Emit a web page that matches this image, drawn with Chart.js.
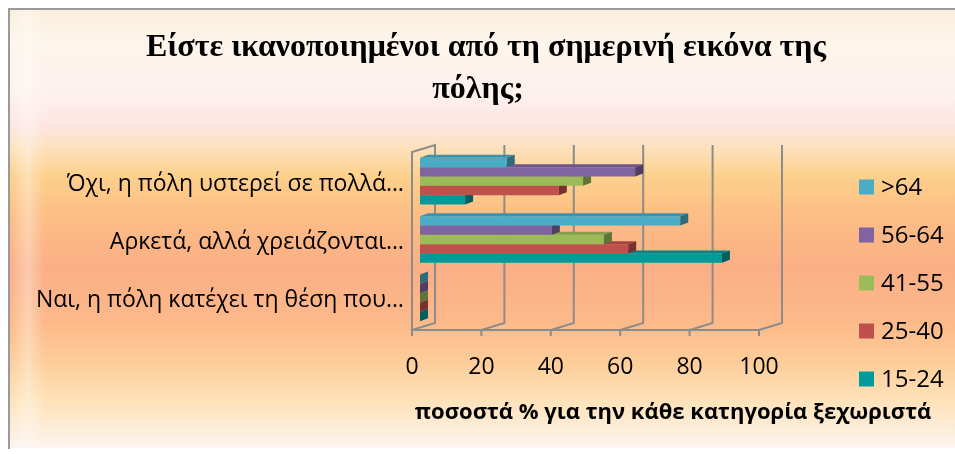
<!DOCTYPE html>
<html>
<head>
<meta charset="utf-8">
<script src="https://cdn.jsdelivr.net/npm/chart.js@4/dist/chart.umd.min.js"></script>
<style>
  html, body { margin: 0; padding: 0; background: #fff; }
  canvas { display: block; }
</style>
</head>
<body>
<canvas id="chart" width="955" height="454"></canvas>
<script>
// δεδομένα
const categories = ['Όχι, η πόλη υστερεί σε πολλά…', 'Αρκετά, αλλά χρειάζονται…', 'Ναι, η πόλη κατέχει τη θέση που…'];
const ageGroups = ['>64', '56-64', '41-55', '25-40', '15-24'];
const over64 = [25, 75, 0];
const age56to64 = [62, 38, 0];
const age41to55 = [47, 53, 0];
const age25to40 = [40, 60, 0];
const age15to24 = [13, 87, 0];
const xTicks = [0, 20, 40, 60, 80, 100];
const colors = ['#4bacc6', '#8064a2', '#9bbb59', '#c0504d', '#009a9b'];
const titleLines = ['Είστε ικανοποιημένοι από τη σημερινή εικόνα της', 'πόλης;'];
const xTitle = 'ποσοστά % για την κάθε κατηγορία ξεχωριστά';

const series = [over64, age56to64, age41to55, age25to40, age15to24];

// 3D βάθος
const DX = 23, DY = -7;
const SHIFT_X = 8, SHIFT_Y = -3;
const BAR_DX = 8, BAR_DY = -3;
const GRID = '#8c8c8c';

function shade(hex, f) {
  const n = parseInt(hex.slice(1), 16);
  const r = Math.round(((n >> 16) & 255) * f);
  const g = Math.round(((n >> 8) & 255) * f);
  const b = Math.round((n & 255) * f);
  return `rgb(${r},${g},${b})`;
}

const background = {
  id: 'background',
  beforeDraw(chart) {
    const ctx = chart.ctx;
    ctx.save();
    ctx.fillStyle = '#fff';
    ctx.fillRect(0, 0, chart.width, chart.height);
    const g = ctx.createLinearGradient(0, 10, 0, 448);
    g.addColorStop(0.00, '#fbefdc');
    g.addColorStop(0.07, '#fdf5ea');
    g.addColorStop(0.19, '#fdf1ee');
    g.addColorStop(0.26, '#fde6e4');
    g.addColorStop(0.32, '#fde0b8');
    g.addColorStop(0.38, '#fdd08c');
    g.addColorStop(0.46, '#fcbf84');
    g.addColorStop(0.59, '#fbae86');
    g.addColorStop(0.71, '#fcb98a');
    g.addColorStop(0.80, '#fdcc98');
    g.addColorStop(0.89, '#fee2b8');
    g.addColorStop(0.98, '#fdf0e4');
    g.addColorStop(1.00, '#fdf3f0');
    ctx.fillStyle = g;
    ctx.fillRect(10, 10, chart.width - 10, 438);
    const h = ctx.createLinearGradient(10, 0, 45, 0);
    h.addColorStop(0, 'rgba(255,255,255,0)');
    h.addColorStop(0.5, 'rgba(255,255,255,0.35)');
    h.addColorStop(1, 'rgba(255,255,255,0)');
    ctx.fillStyle = h;
    ctx.fillRect(10, 10, 35, 438);
    ctx.strokeStyle = '#9a9a9a';
    ctx.lineWidth = 2;
    ctx.beginPath();
    ctx.moveTo(9, 449);
    ctx.lineTo(9, 9);
    ctx.lineTo(chart.width, 9);
    ctx.stroke();
    ctx.restore();
  }
};

const depth = {
  id: 'depth',
  beforeDatasetsDraw(chart) {
    const { ctx, chartArea: a, scales: { x } } = chart;
    const top = a.top - 3;
    const x0 = x.getPixelForValue(0);
    ctx.save();
    ctx.strokeStyle = GRID;
    ctx.lineWidth = 2;
    // αριστερός τοίχος
    ctx.beginPath();
    ctx.moveTo(x0, a.bottom);
    ctx.lineTo(x0, top);
    ctx.lineTo(x0 + DX, top + DY);
    ctx.lineTo(x0 + DX, a.bottom + DY);
    ctx.lineTo(x0, a.bottom);
    ctx.stroke();
    // γραμμές πλέγματος στον πίσω τοίχο
    xTicks.forEach(v => {
      if (v === 0) return;
      const px = x.getPixelForValue(v);
      ctx.beginPath();
      ctx.moveTo(px + DX, top + DY);
      ctx.lineTo(px + DX, a.bottom + DY);
      ctx.lineTo(px, a.bottom);
      ctx.stroke();
    });
    // μπροστινός άξονας
    ctx.beginPath();
    ctx.moveTo(x0, a.bottom);
    ctx.lineTo(x.getPixelForValue(xTicks[xTicks.length - 1]), a.bottom);
    xTicks.forEach(v => {
      const px = x.getPixelForValue(v);
      ctx.moveTo(px, a.bottom);
      ctx.lineTo(px, a.bottom + 6);
    });
    ctx.stroke();
    ctx.restore();
    ctx.save();
    ctx.translate(SHIFT_X, SHIFT_Y);
  },
  afterDatasetDraw(chart, args) {
    const ctx = chart.ctx;
    const color = colors[args.index];
    args.meta.data.forEach(bar => {
      const { x, y, base, height } = bar.getProps(['x', 'y', 'base', 'height'], true);
      const t = y - height / 2, b = y + height / 2;
      ctx.fillStyle = shade(color, 0.85);
      ctx.beginPath();
      ctx.moveTo(base, t);
      ctx.lineTo(base + BAR_DX, t + BAR_DY);
      ctx.lineTo(x + BAR_DX, t + BAR_DY);
      ctx.lineTo(x, t);
      ctx.closePath();
      ctx.fill();
      ctx.fillStyle = shade(color, 0.62);
      ctx.beginPath();
      ctx.moveTo(x, t);
      ctx.lineTo(x + BAR_DX, t + BAR_DY);
      ctx.lineTo(x + BAR_DX, b + BAR_DY);
      ctx.lineTo(x, b);
      ctx.closePath();
      ctx.fill();
    });
  },
  afterDatasetsDraw(chart) {
    chart.ctx.restore();
  }
};

const texts = {
  id: 'texts',
  afterDraw(chart) {
    const ctx = chart.ctx;
    ctx.save();
    ctx.fillStyle = '#000';
    ctx.textAlign = 'center';
    ctx.textBaseline = 'middle';
    // τίτλος
    ctx.font = 'bold 32px "Liberation Serif"';
    ctx.fillText(titleLines[0], 486, 48);
    ctx.fillText(titleLines[1], 478, 90);
    // τίτλος άξονα
    ctx.font = 'bold 22px "Open Sans"';
    ctx.fillText(xTitle, 673, 413);
    // υπόμνημα
    ctx.textAlign = 'left';
    ctx.font = '24px "Open Sans"';
    chart.data.datasets.forEach((ds, i) => {
      const cy = 187 + i * 48;
      ctx.fillStyle = ds.backgroundColor;
      ctx.fillRect(859, cy - 7.5, 15, 15);
      ctx.fillStyle = '#000';
      ctx.fillText(ds.label, 881, cy + 1);
    });
    ctx.restore();
  }
};

new Chart(document.getElementById('chart'), {
  type: 'bar',
  data: {
    labels: categories,
    datasets: ageGroups.map((g, i) => ({
      label: g,
      data: series[i],
      backgroundColor: colors[i],
      borderWidth: 0,
      categoryPercentage: 0.8,
      barPercentage: 1.0,
      clip: false
    }))
  },
  options: {
    indexAxis: 'y',
    responsive: false,
    animation: false,
    devicePixelRatio: 1,
    layout: { padding: { top: 155, right: 196, bottom: 0, left: 0 } },
    plugins: {
      legend: { display: false },
      title: { display: false },
      tooltip: { enabled: false }
    },
    scales: {
      x: {
        min: 0,
        max: 100,
        afterBuildTicks: s => { s.ticks = xTicks.map(v => ({ value: v })); },
        afterFit: s => { s.height = 124; },
        ticks: { font: { family: '"Open Sans"', size: 23 }, color: '#000', padding: 16 },
        grid: { display: false },
        border: { display: false }
      },
      y: {
        afterFit: s => { s.width = 412; },
        ticks: { font: { family: '"Open Sans"', size: 23 }, color: '#000', padding: 0 },
        grid: { display: false },
        border: { display: false }
      }
    }
  },
  plugins: [background, depth, texts]
});
</script>
</body>
</html>
